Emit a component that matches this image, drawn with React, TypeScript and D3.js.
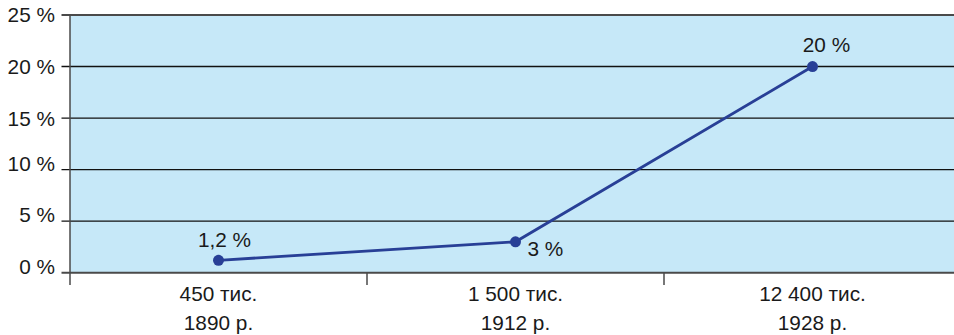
import React from "react";
import * as d3 from "d3";

const categories = ["450 тис.", "1 500 тис.", "12 400 тис."];
const years = ["1890 р.", "1912 р.", "1928 р."];
const values = [1.2, 3, 20];
const yTicks = [0, 5, 10, 15, 20, 25];

const W = 954;
const H = 335;
const left = 70;
const top = 15;
const bottom = 272.7;
const bandW = 297;

export default function App() {
  const x = d3
    .scaleBand<string>()
    .domain(categories)
    .range([left, left + bandW * categories.length])
    .paddingInner(0)
    .paddingOuter(0);
  const y = d3.scaleLinear().domain([0, 25]).range([bottom, top]);
  const cx = (c: string) => (x(c) as number) + x.bandwidth() / 2;

  const line = d3
    .line<number>()
    .x((_, i) => cx(categories[i]))
    .y((d) => y(d));

  const fmt = (v: number) => String(v).replace(".", ",") + " %";
  const labelOffsets = [
    { dx: 6, dy: -13, anchor: "middle" },
    { dx: 12, dy: 14, anchor: "start" },
    { dx: 14, dy: -15, anchor: "middle" },
  ];
  const font = "'Liberation Sans', Arial, Helvetica, sans-serif";
  const textColor = "#1a1a1a";
  const bandEdges = categories.map((c) => x(c) as number);

  return (
    <svg
      width={W}
      height={H}
      style={{ position: "absolute", left: 0, top: 0 }}
      fontFamily={font}
      fontSize={20.8}
    >
      <rect x={left} y={top} width={W - left} height={bottom - top} fill="#c6e8f8" />
      {yTicks.map((t) => {
        const edge = t === 0 || t === 25;
        return (
          <g key={t}>
            <line
              x1={61.5}
              x2={W}
              y1={y(t)}
              y2={y(t)}
              stroke={edge ? "#4a4a4a" : "#111"}
              strokeWidth={edge ? 2 : 1.4}
            />
            <text
              x={55}
              y={y(t)}
              dy={t <= 10 ? "0.05em" : "0.36em"}
              textAnchor="end"
              fill={textColor}
            >
              {t} %
            </text>
          </g>
        );
      })}
      <line x1={left} x2={left} y1={top} y2={285} stroke="#4a4a4a" strokeWidth={1.5} />
      {bandEdges.slice(1).map((bx, i) => (
        <line key={i} x1={bx} x2={bx} y1={bottom} y2={285} stroke="#4a4a4a" strokeWidth={1.5} />
      ))}
      {categories.map((c, i) => (
        <g key={c}>
          <text x={cx(c)} y={300.5} textAnchor="middle" fill={textColor}>
            {c}
          </text>
          <text x={cx(c)} y={330} textAnchor="middle" fill={textColor}>
            {years[i]}
          </text>
        </g>
      ))}
      <path d={line(values) as string} fill="none" stroke="#283f96" strokeWidth={2.8} />
      {values.map((v, i) => (
        <circle key={i} cx={cx(categories[i])} cy={y(v)} r={5.5} fill="#283f96" />
      ))}
      {values.map((v, i) => (
        <text
          key={"l" + i}
          x={cx(categories[i]) + labelOffsets[i].dx}
          y={y(v) + labelOffsets[i].dy}
          textAnchor={labelOffsets[i].anchor}
          fill={textColor}
        >
          {fmt(v)}
        </text>
      ))}
    </svg>
  );
}
